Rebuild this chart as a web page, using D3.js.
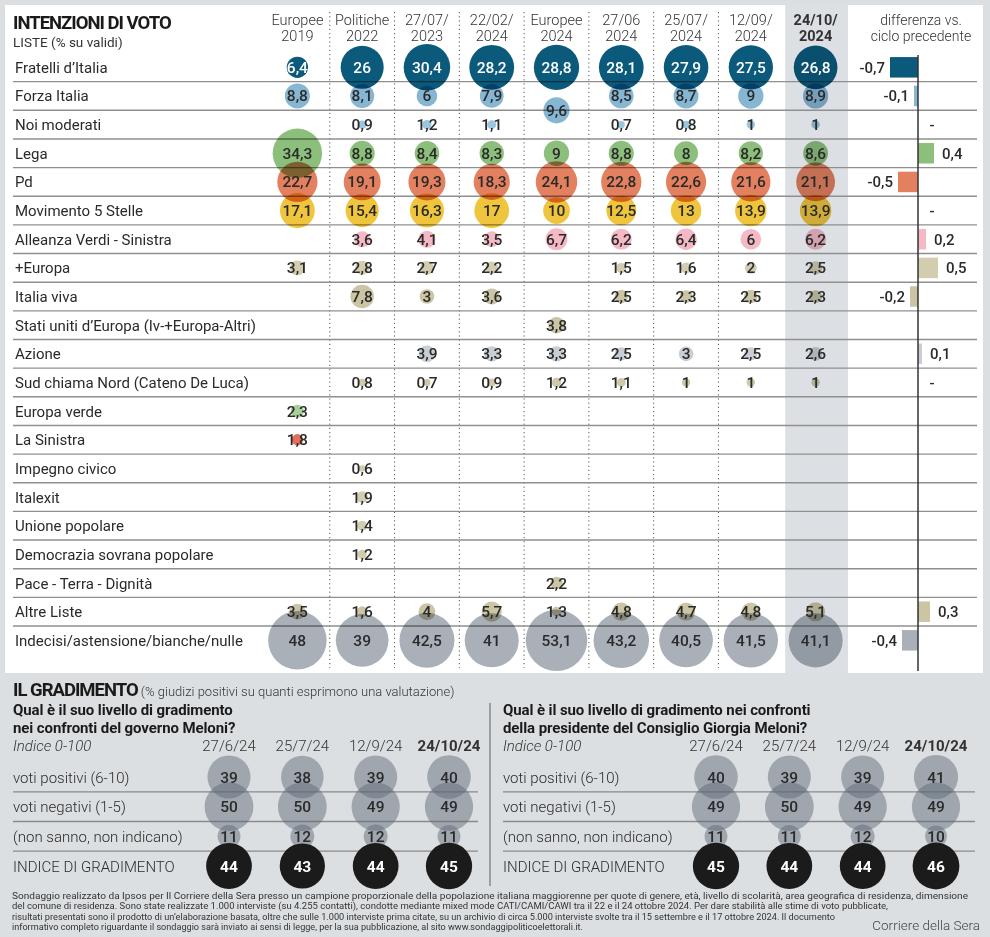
<!DOCTYPE html>
<html><head><meta charset="utf-8">
<script src="https://cdn.jsdelivr.net/npm/d3@7"></script>
<style>
body{margin:0;background:#dcdfe2;}
svg{display:block;font-family:Roboto,"Open Sans",sans-serif;}
</style></head><body>
<svg id="c" width="990" height="937"></svg>
<script>
// ---------------- DATA ----------------
const columns = ["Europee 2019","Politiche 2022","27/07/2023","22/02/2024","Europee 2024","27/06/2024","25/07/2024","12/09/2024","24/10/2024"];
const columnHeaders = [["Europee","2019"],["Politiche","2022"],["27/07/","2023"],["22/02/","2024"],["Europee","2024"],["27/06","2024"],["25/07/","2024"],["12/09/","2024"],["24/10/","2024"]];
const parties = ["Fratelli d’Italia","Forza Italia","Noi moderati","Lega","Pd","Movimento 5 Stelle","Alleanza Verdi - Sinistra","+Europa","Italia viva","Stati uniti d’Europa (Iv-+Europa-Altri)","Azione","Sud chiama Nord (Cateno De Luca)","Europa verde","La Sinistra","Impegno civico","Italexit","Unione popolare","Democrazia sovrana popolare","Pace - Terra - Dignità","Altre Liste","Indecisi/astensione/bianche/nulle"];
const partyColors = ["#0b5a7c","#86b6d2","#9cc6df","#8dbf7c","#e2805f","#f0c53e","#f5b9c6","#d3cdb0","#cbc5a5","#cbc5a5","#c9ced5","#cfc9aa","#a9cf98","#e2705a","#d3cdb0","#d3cdb0","#d3cdb0","#d3cdb0","#cbc5a5","#cbc5a5","#a9b0b8"];
const fratelliItalia = [6.4,26,30.4,28.2,28.8,28.1,27.9,27.5,26.8];
const forzaItalia = [8.8,8.1,6,7.9,9.6,8.5,8.7,9,8.9];
const noiModerati = [null,0.9,1.2,1.1,null,0.7,0.8,1,1];
const lega = [34.3,8.8,8.4,8.3,9,8.8,8,8.2,8.6];
const pd = [22.7,19.1,19.3,18.3,24.1,22.8,22.6,21.6,21.1];
const m5s = [17.1,15.4,16.3,17,10,12.5,13,13.9,13.9];
const avs = [null,3.6,4.1,3.5,6.7,6.2,6.4,6,6.2];
const piuEuropa = [3.1,2.8,2.7,2.2,null,1.5,1.6,2,2.5];
const italiaViva = [null,7.8,3,3.6,null,2.5,2.3,2.5,2.3];
const statiUniti = [null,null,null,null,3.8,null,null,null,null];
const azione = [null,null,3.9,3.3,3.3,2.5,3,2.5,2.6];
const sudChiamaNord = [null,0.8,0.7,0.9,1.2,1.1,1,1,1];
const europaVerde = [2.3,null,null,null,null,null,null,null,null];
const laSinistra = [1.8,null,null,null,null,null,null,null,null];
const impegnoCivico = [null,0.6,null,null,null,null,null,null,null];
const italexit = [null,1.9,null,null,null,null,null,null,null];
const unionePopolare = [null,1.4,null,null,null,null,null,null,null];
const democraziaSovrana = [null,1.2,null,null,null,null,null,null,null];
const paceTerraDignita = [null,null,null,null,2.2,null,null,null,null];
const altreListe = [3.5,1.6,4,5.7,1.3,4.8,4.7,4.8,5.1];
const indecisi = [48,39,42.5,41,53.1,43.2,40.5,41.5,41.1];
const diffValues = [-0.7,-0.1,0,0.4,-0.5,0,0.2,0.5,-0.2,null,0.1,0,null,null,null,null,null,null,null,0.3,-0.4];
// Forza Italia in Europee 2024 ran jointly with Noi moderati: bubble sits between the two rows
const shiftedCells = [{party:"Forza Italia", column:"Europee 2024", rowShift:0.5}];

const gradDates = ["27/6/24","25/7/24","12/9/24","24/10/24"];
const gradRows = ["voti positivi (6-10)","voti negativi (1-5)","(non sanno, non indicano)","INDICE DI GRADIMENTO"];
const govPositivi = [39,38,39,40];
const govNegativi = [50,50,49,49];
const govNonSanno = [11,12,12,11];
const govIndice = [44,43,44,45];
const melPositivi = [40,39,39,41];
const melNegativi = [49,50,49,49];
const melNonSanno = [11,11,12,10];
const melIndice = [45,44,44,46];

const footnote = [
"Sondaggio realizzato da Ipsos per Il Corriere della Sera presso un campione proporzionale della popolazione italiana maggiorenne per quote di genere, età, livello di scolarità, area geografica di residenza, dimensione",
"del comune di residenza. Sono state realizzate 1.000 interviste (su 4.255 contatti), condotte mediante mixed mode CATI/CAMI/CAWI tra il 22 e il 24 ottobre 2024. Per dare stabilità alle stime di voto pubblicate,",
"risultati presentati sono il prodotto di un’elaborazione basata, oltre che sulle 1.000 interviste prima citate, su un archivio di circa 5.000 interviste svolte tra il 15 settembre e il 17 ottobre 2024. Il documento",
"informativo completo riguardante il sondaggio sarà inviato ai sensi di legge, per la sua pubblicazione, al sito www.sondaggipoliticoelettorali.it."];
const footnoteWidths = [956, 876, 823, 571];

// ---------------- DRAW ----------------
const seriesValues = [fratelliItalia,forzaItalia,noiModerati,lega,pd,m5s,avs,piuEuropa,italiaViva,statiUniti,azione,sudChiamaNord,europaVerde,laSinistra,impegnoCivico,italexit,unionePopolare,democraziaSovrana,paceTerraDignita,altreListe,indecisi];
const svg = d3.select("#c");
const fmt = v => String(v).replace(".", ",");
const TXT = "#2a2a2a";

const x = d3.scaleBand().domain(columns).range([265, 848]);
const y = d3.scaleBand().domain(parties).range([53, 53 + 28.65 * parties.length]);
const r = d3.scaleSqrt().domain([0, 60]).range([0, 4.22 * Math.sqrt(60)]);
const xd = d3.scaleLinear().domain([-1, 1]).range([878, 958]);

// white panel
svg.append("rect").attr("x",5).attr("y",5).attr("width",978).attr("height",668).attr("fill","#fff");
// highlighted column
const last = columns[columns.length-1];
svg.append("rect").attr("x",x(last)+2).attr("y",5).attr("width",x.bandwidth()-2).attr("height",668).attr("fill","#dcdfe3");

// dotted separators
svg.append("g").selectAll("line").data(columns.slice(0,-2)).join("line")
  .attr("x1",d=>x(d)+x.bandwidth()).attr("x2",d=>x(d)+x.bandwidth())
  .attr("y1",12).attr("y2",668).attr("stroke","#555").attr("stroke-width",1).attr("stroke-dasharray","1.2,3");

// row lines
svg.append("g").selectAll("line").data(parties.slice(1)).join("line")
  .attr("x1",13).attr("x2",977).attr("y1",d=>y(d)).attr("y2",d=>y(d))
  .attr("stroke","#8f8f8f").attr("stroke-width",1.4);

// titles
svg.append("text").attr("x",13).attr("y",29).attr("font-size",18.5).attr("font-weight",700).attr("fill","#1a1a1a").attr("letter-spacing",-1).text("INTENZIONI DI VOTO");
svg.append("text").attr("x",13).attr("y",47).attr("font-size",13.5).attr("fill","#333").text("LISTE (% su validi)");

const hdr = svg.append("g").selectAll("text").data(columns).join("text")
  .attr("x",d=>x(d)+x.bandwidth()/2).attr("text-anchor","middle").attr("font-size",14.5).attr("fill","#333")
  .attr("font-weight",(d,i)=>i===columns.length-1?700:300);
hdr.append("tspan").attr("x",d=>x(d)+x.bandwidth()/2).attr("y",25).text((d,i)=>columnHeaders[i][0]);
hdr.append("tspan").attr("x",d=>x(d)+x.bandwidth()/2).attr("y",41).text((d,i)=>columnHeaders[i][1]);
const dh = svg.append("text").attr("text-anchor","middle").attr("font-size",14).attr("fill","#333").attr("font-weight",300);
dh.append("tspan").attr("x",921).attr("y",25).text("differenza vs.");
dh.append("tspan").attr("x",921).attr("y",41).text("ciclo precedente");

// party labels
svg.append("g").selectAll("text").data(parties).join("text")
  .attr("x",15).attr("y",d=>y(d)+y.bandwidth()/2+5.5).attr("font-size",15).attr("fill",TXT).text(d=>d);

// cells
const cells = [];
parties.forEach((p,i)=>seriesValues[i].forEach((v,j)=>{
  if(v==null) return;
  const sh = shiftedCells.find(s=>s.party===p && s.column===columns[j]);
  cells.push({p, col:columns[j], v, color:partyColors[i], shift: sh?sh.rowShift:0, white: i===0});
}));
const cy = d => y(d.p)+y.bandwidth()/2 + d.shift*y.step();
svg.append("g").selectAll("circle").data(cells).join("circle")
  .attr("cx",d=>x(d.col)+x.bandwidth()/2).attr("cy",cy).attr("r",d=>r(d.v))
  .attr("fill",d=>d.color).style("mix-blend-mode","multiply");
svg.append("g").selectAll("text").data(cells).join("text")
  .attr("x",d=>x(d.col)+x.bandwidth()/2).attr("y",d=>cy(d)+5.5).attr("text-anchor","middle")
  .attr("font-size",15.5).attr("font-weight",500).attr("fill",d=>d.white?"#fff":TXT).text(d=>fmt(d.v));

// diff bars
const diffs = parties.map((p,i)=>({p,v:diffValues[i],color:partyColors[i]})).filter(d=>d.v!=null);
const bh = 20.5;
svg.append("g").selectAll("rect").data(diffs.filter(d=>d.v!==0)).join("rect")
  .attr("x",d=>xd(Math.min(0,d.v))).attr("width",d=>Math.abs(xd(d.v)-xd(0)))
  .attr("y",d=>y(d.p)+y.bandwidth()/2-bh/2).attr("height",bh).attr("fill",d=>d.color);
svg.append("g").selectAll("text").data(diffs).join("text")
  .attr("x",d=>d.v<0?xd(d.v)-5:d.v>0?xd(d.v)+8:xd(0)+14)
  .attr("text-anchor",d=>d.v<0?"end":d.v>0?"start":"middle")
  .attr("y",d=>y(d.p)+y.bandwidth()/2+5.5).attr("font-size",15).attr("font-weight",500).attr("fill",TXT)
  .text(d=>d.v===0?"-":fmt(d.v));
svg.append("line").attr("x1",xd(0)).attr("x2",xd(0)).attr("y1",55).attr("y2",671).attr("stroke","#333").attr("stroke-width",1.5);

// ---------------- GRADIMENTO ----------------
svg.append("text").attr("x",13).attr("y",696).attr("font-size",18.5).attr("font-weight",700).attr("fill","#1a1a1a").attr("letter-spacing",-1)
  .text("IL GRADIMENTO")
  .append("tspan").attr("font-size",13).attr("font-weight",300).attr("letter-spacing",0).attr("fill","#333").text("  (% giudizi positivi su quanti esprimono una valutazione)");

const rg = d3.scaleSqrt().domain([0,60]).range([0, 3.45*Math.sqrt(60)]);
const yg = d3.scalePoint().domain(gradRows).range([777, 866]);
function block(x0, x1, colRange, title, series){
  const g = svg.append("g");
  const xg = d3.scalePoint().domain(gradDates).range(colRange);
  const t = g.append("text").attr("font-size",15).attr("font-weight",700).attr("fill","#1a1a1a").attr("letter-spacing",-0.1);
  t.append("tspan").attr("x",x0).attr("y",715).text(title[0]);
  t.append("tspan").attr("x",x0).attr("y",732.5).text(title[1]);
  g.append("text").attr("x",x0).attr("y",751).attr("font-size",15).attr("font-style","italic").attr("font-weight",300).attr("fill","#333").text("Indice 0-100");
  g.selectAll(".dt").data(gradDates).join("text").attr("class","dt")
    .attr("x",d=>xg(d)).attr("y",751).attr("text-anchor","middle").attr("font-size",15)
    .attr("font-weight",(d,i)=>i===gradDates.length-1?700:300).attr("fill","#333").text(d=>d);
  const step = yg.step();
  g.selectAll(".rl").data(gradRows.slice(1)).join("line").attr("class","rl")
    .attr("x1",x0).attr("x2",x1).attr("y1",d=>yg(d)-step/2).attr("y2",d=>yg(d)-step/2)
    .attr("stroke","#8a8a8a").attr("stroke-width",1.3);
  g.selectAll(".lb").data(gradRows).join("text").attr("class","lb")
    .attr("x",x0).attr("y",d=>yg(d)+5.5).attr("font-size",15).attr("font-weight",300).attr("fill",TXT).text(d=>d);
  const pts = [];
  gradRows.forEach((row,i)=>series[i].forEach((v,j)=>pts.push({row,date:gradDates[j],v,idx:i===3})));
  g.selectAll("circle").data(pts).join("circle")
    .attr("cx",d=>xg(d.date)).attr("cy",d=>yg(d.row)).attr("r",d=>rg(d.v))
    .attr("fill",d=>d.idx?"#1b1b1b":"#5b6976").attr("fill-opacity",d=>d.idx?1:0.48);
  g.selectAll(".v").data(pts).join("text").attr("class","v")
    .attr("x",d=>xg(d.date)).attr("y",d=>yg(d.row)+5.5).attr("text-anchor","middle")
    .attr("font-size",15.5).attr("font-weight",d=>d.idx?700:500).attr("fill",d=>d.idx?"#fff":TXT).text(d=>d.v);
}
block(13, 478, [229, 449], ["Qual è il suo livello di gradimento","nei confronti del governo Meloni?"], [govPositivi,govNegativi,govNonSanno,govIndice]);
block(503, 975, [716, 936], ["Qual è il suo livello di gradimento nei confronti","della presidente del Consiglio Giorgia Meloni?"], [melPositivi,melNegativi,melNonSanno,melIndice]);
svg.append("line").attr("x1",490).attr("x2",490).attr("y1",703).attr("y2",886).attr("stroke","#888").attr("stroke-width",1.5);

// footnote
svg.append("g").selectAll("text").data(footnote).join("text")
  .attr("x",12).attr("y",(d,i)=>898.5+i*10.6).attr("font-size",9.3).attr("fill","#333")
  .attr("font-family","'Liberation Sans Narrow','Roboto',sans-serif")
  .attr("textLength",(d,i)=>footnoteWidths[i]).attr("lengthAdjust","spacingAndGlyphs").text(d=>d);
svg.append("text").attr("x",980).attr("y",930).attr("text-anchor","end").attr("font-size",13.5).attr("font-weight",300).attr("fill","#444").text("Corriere della Sera");
</script>
</body></html>
